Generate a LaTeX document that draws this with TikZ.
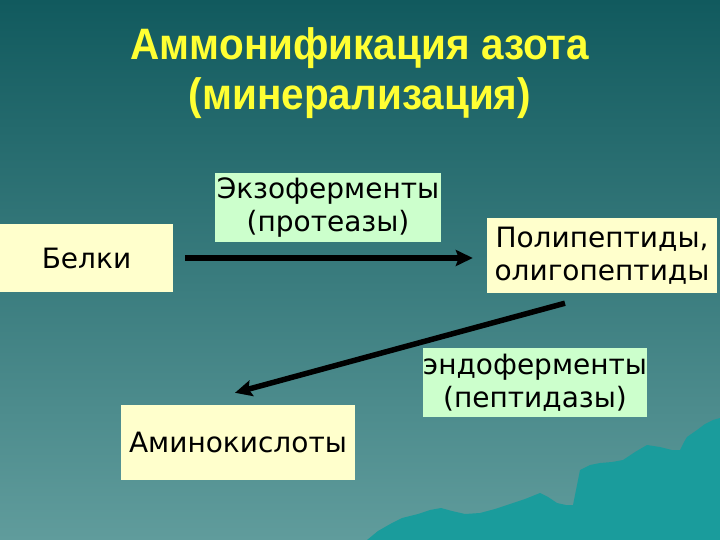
\documentclass[tikz,border=0pt]{standalone}
\usepackage{fontspec}
\setmainfont{DejaVu Sans}
\newfontfamily\titlefont[FakeStretch=0.92]{Liberation Sans}
\usetikzlibrary{arrows.meta, positioning, calc}
\definecolor{cbgtop}{HTML}{115A5E}
\definecolor{cbgbot}{HTML}{609C9C}
\definecolor{chill}{HTML}{1A9C9C}
\definecolor{cyellow}{HTML}{FFFFCC}
\definecolor{cmint}{HTML}{CCFFCC}
\definecolor{ctitle}{HTML}{FFFF33}
\tikzset{
  every picture/.style={x=1pt, y=-1pt},
  box/.style={fill=#1, inner sep=0pt, align=center, font=\fontsize{28}{33}\selectfont},
  box/.default=cyellow,
  arrow/.style={-{Stealth[length=17pt, width=16pt, inset=3pt]}, draw=black, line width=5.5pt},
  title/.style={font=\titlefont\bfseries\fontsize{44}{50}\selectfont, text=ctitle, align=center},
}

\begin{document}
\begin{tikzpicture}
  \useasboundingbox (0,0) rectangle (720,540);
  \shade[top color=cbgtop, bottom color=cbgbot] (0,0) rectangle (720,540);
  % hills in the lower right corner
  \fill[chill] (367,540) -- (378,531) -- (392,523) -- (402,518) -- (418,514) -- (430,510) -- (441,508)
    -- (452,511) -- (465,514) -- (480,513) -- (495,509) -- (510,504) -- (525,499) -- (540,493)
    -- (548,497) -- (557,503) -- (566,505) -- (573,505) -- (576,490) -- (580,470) -- (590,465)
    -- (600,463) -- (612,462) -- (623,460) -- (635,452) -- (647,445) -- (660,447) -- (672,450)
    -- (680,450) -- (684,442) -- (687,437) -- (697,430) -- (705,424) -- (713,420) -- (720,418)
    -- (720,540) -- cycle;
  \node[title] (ttl) at (360,73) {Аммонификация азота\\(минерализация)};
  \node[box, minimum width=173pt, minimum height=68pt] (b) at (86.5,258) {Белки};
  \node[box=cmint, minimum width=226pt, minimum height=69pt] (exo) at (328,207.5) {Экзоферменты\\(протеазы)};
  \node[box, minimum width=230pt, minimum height=75pt] (p) at (602,255.5) {Полипептиды,\\олигопептиды};
  \node[box=cmint, minimum width=216pt, minimum height=69pt] (endo) at (535,382.5) {эндоферменты\\(пептидазы)};
  \node[box, minimum width=234pt, minimum height=75pt] (a) at (238,442.5) {Аминокислоты};
  \draw[arrow, shorten <=12pt, shorten >=14pt] (b.east) -- (b.east -| p.west);
  \draw[arrow] ([shift={(-37pt,-10pt)}]p.south) -- ([shift={(-3pt,12pt)}]a.north);
\end{tikzpicture}
\end{document}
